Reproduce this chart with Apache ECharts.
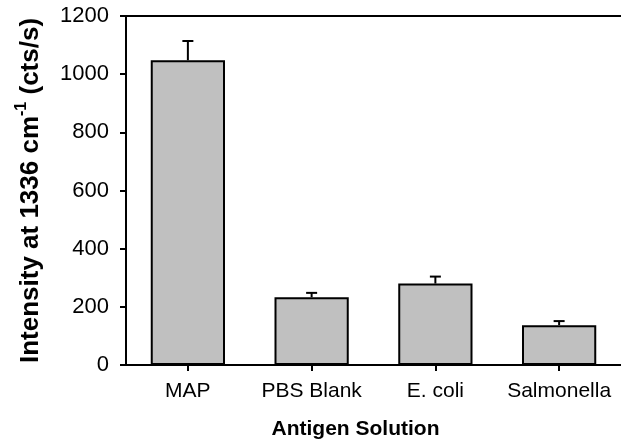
<!DOCTYPE html>
<html>
<head>
<meta charset="utf-8">
<script src="https://cdn.jsdelivr.net/npm/echarts@6/dist/echarts.min.js"></script>
<style>
  html, body { margin: 0; padding: 0; background: #fff; }
  #chart { width: 621px; height: 446px; }
</style>
</head>
<body>
<div id="chart"></div>
<script>
// Raman intensity per antigen solution, with upper error (SD)
const categories = ['MAP', 'PBS Blank', 'E. coli', 'Salmonella'];
const intensity = [1048, 233, 280, 137];
const errorUp = [66, 15, 24, 14];
const yTicks = { min: 0, max: 1200, interval: 200 };

const FONT = '"Liberation Sans", Arial, sans-serif';

const chart = echarts.init(document.getElementById('chart'), null, { renderer: 'canvas' });

const errData = categories.map((c, i) => [i, intensity[i], intensity[i] + errorUp[i]]);

chart.setOption({
  animation: false,
  backgroundColor: '#ffffff',
  grid: { left: 126, top: 16, bottom: 81, right: -4, containLabel: false },
  xAxis: [{
    type: 'category',
    data: categories,
    position: 'bottom',
    boundaryGap: true,
    axisLine: { show: true, lineStyle: { color: '#000', width: 2 } },
    axisTick: { show: true, alignWithLabel: true, length: 6, inside: false, lineStyle: { color: '#000', width: 2 } },
    axisLabel: { color: '#000', fontFamily: FONT, fontSize: 21, margin: 16, interval: 0, hideOverlap: false },
    splitLine: { show: false },
    name: 'Antigen Solution',
    nameLocation: 'middle',
    nameGap: 54,
    nameTextStyle: { color: '#000', fontFamily: FONT, fontSize: 21, fontWeight: 'bold', padding: [0, 36, 0, 0] }
  }, {
    type: 'category',
    data: categories,
    position: 'top',
    axisLine: { show: true, onZero: false, lineStyle: { color: '#000', width: 2 } },
    axisTick: { show: false },
    axisLabel: { show: false },
    splitLine: { show: false }
  }],
  yAxis: {
    type: 'value',
    min: yTicks.min,
    max: yTicks.max,
    interval: yTicks.interval,
    axisLine: { show: true, lineStyle: { color: '#000', width: 2 } },
    axisTick: { show: true, length: 6, inside: false, lineStyle: { color: '#000', width: 2 } },
    axisLabel: { color: '#000', fontFamily: FONT, fontSize: 22, margin: 17, formatter: v => String(v) },
    splitLine: { show: false },
    name: '{t|Intensity at 1336 cm}{s|-1}{t| (cts/s)}',
    nameLocation: 'middle',
    nameGap: 82,
    nameTextStyle: {
      color: '#000',
      fontFamily: FONT,
      fontWeight: 'bold',
      fontSize: 26,
      padding: [0, 0, 0, 0],
      rich: {
        t: { fontFamily: FONT, fontWeight: 'bold', fontSize: 26, color: '#000', verticalAlign: 'bottom', lineHeight: 30 },
        s: { fontFamily: FONT, fontWeight: 'bold', fontSize: 16, color: '#000', verticalAlign: 'top', lineHeight: 30 }
      }
    }
  },
  series: [{
    type: 'custom',
    name: 'error',
    z: 1,
    data: errData,
    renderItem: function (params, api) {
      const x = api.value(0);
      const base = api.coord([x, api.value(1)]);
      const top = api.coord([x, api.value(2)]);
      const half = 5.5;
      const style = { stroke: '#000', lineWidth: 2, fill: null };
      return {
        type: 'group',
        children: [
          { type: 'line', shape: { x1: base[0], y1: base[1], x2: top[0], y2: top[1] }, style: style },
          { type: 'line', shape: { x1: top[0] - half, y1: top[1], x2: top[0] + half, y2: top[1] }, style: style }
        ]
      };
    }
  }, {
    type: 'bar',
    name: 'intensity',
    z: 2,
    data: intensity,
    barWidth: '60%',
    itemStyle: { color: '#c0c0c0', borderColor: '#000', borderWidth: 2 }
  }]
});
</script>
</body>
</html>
